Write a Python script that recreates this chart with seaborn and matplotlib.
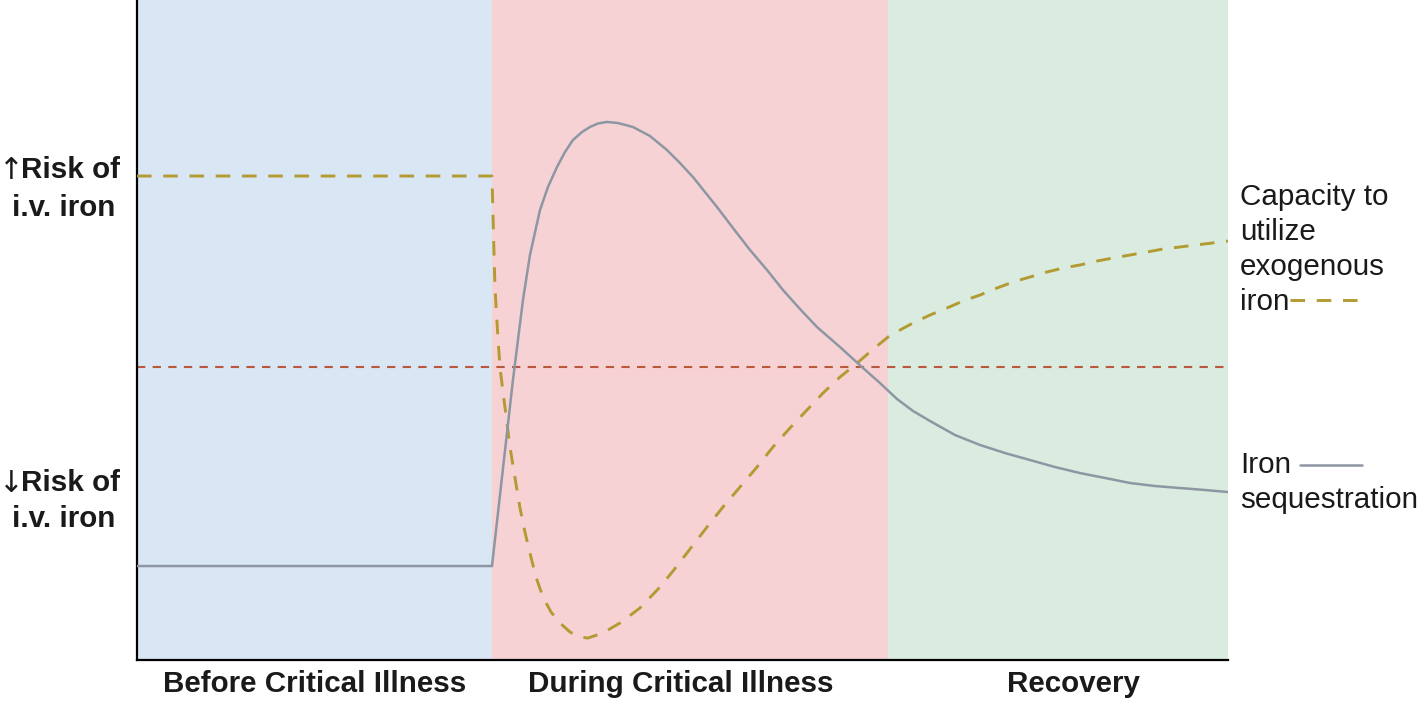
import numpy as np
import pandas as pd
import matplotlib.pyplot as plt
import seaborn as sns

sns.set_style("white")
plt.rcParams['font.family'] = ['Liberation Sans', 'DejaVu Sans']

# Phases along the time axis (0-100)
phase_names = ['Before Critical Illness', 'During Critical Illness', 'Recovery']
phase_edges = [0, 32.5, 68.8, 100]
phase_colors = ['#d9e6f4', '#f7d2d5', '#d9ecdf']

# Iron sequestration (solid grey)
seq_x = [0, 32.54, 34.46, 34.92, 35.38, 36.02, 36.94, 37.67, 38.50, 39.23, 39.96,
         40.79, 41.52, 42.25, 43.08, 44.09, 45.46, 47.02, 48.58, 49.77, 50.96, 52.06,
         53.16, 54.63, 56.19, 57.75, 59.21, 60.77, 62.33, 64.44, 66.45, 68.10, 69.66,
         71.13, 72.69, 74.98, 77.27, 79.56, 81.85, 84.14, 86.43, 88.73, 91.02, 93.31,
         95.60, 97.89, 100]
seq_y = [14.24, 14.24, 42.42, 48.48, 54.55, 61.36, 68.18, 71.67, 74.70, 76.97, 78.79,
         80.00, 80.76, 81.29, 81.52, 81.36, 80.76, 79.39, 77.27, 75.30, 73.18, 70.91,
         68.64, 65.45, 62.12, 59.09, 56.06, 53.18, 50.45, 47.42, 44.39, 41.97, 39.55,
         37.73, 36.21, 34.09, 32.58, 31.36, 30.30, 29.24, 28.33, 27.58, 26.82, 26.36,
         26.06, 25.76, 25.45]

# Capacity to utilize exogenous iron (dashed olive)
cap_x = [0, 32.54, 32.68, 32.81, 33.04, 33.27, 33.55, 33.82, 34.19, 34.65, 35.09,
         35.56, 36.02, 36.57, 37.21, 37.95, 38.77, 39.69, 40.60, 41.34, 42.16, 43.17,
         44.27, 46.10, 47.94, 49.13, 50.69, 52.25, 53.71, 55.27, 56.83, 58.29, 59.85,
         61.41, 62.88, 64.44, 65.81, 67.28, 68.84, 69.94, 71.13, 72.69, 74.24, 75.71,
         77.27, 78.83, 80.29, 81.85, 83.41, 84.88, 86.43, 87.99, 89.46, 91.02, 92.58,
         94.04, 95.60, 97.80, 100]
cap_y = [73.33, 73.33, 64.39, 56.52, 50.00, 44.39, 40.61, 37.12, 32.27, 27.58, 23.18,
         19.39, 16.21, 12.58, 9.55, 7.27, 5.61, 4.24, 3.48, 3.33, 3.79, 4.55,
         5.61, 7.88, 11.06, 13.48, 16.82, 20.15, 23.18, 26.21, 29.24, 32.27, 35.15,
         37.88, 40.45, 42.88, 44.70, 46.82, 48.94, 50.00, 51.06, 52.27, 53.33, 54.39,
         55.30, 56.36, 57.27, 58.03, 58.79, 59.39, 59.85, 60.45, 60.91, 61.36, 61.82,
         62.27, 62.58, 63.03, 63.48]

# Reference level (dashed red)
ref_level = 44.4

seq = pd.DataFrame({'t': seq_x, 'level': seq_y})
cap = pd.DataFrame({'t': cap_x, 'level': cap_y})

fig = plt.figure(figsize=(14.18, 7.02), dpi=100)
ax = fig.add_axes([0.0966, 0.0598, 0.7694, 0.9402])

for i in range(3):
    ax.axvspan(phase_edges[i], phase_edges[i + 1], color=phase_colors[i], lw=0, zorder=0)

ax.axhline(ref_level, color='#b8593d', lw=1.5, ls=(0, (4, 3.5)), zorder=2)
sns.lineplot(data=cap, x='t', y='level', ax=ax, color='#b39a32', lw=2.1,
             estimator=None, sort=False, zorder=3)
ax.lines[-1].set_linestyle((0, (5, 4)))
sns.lineplot(data=seq, x='t', y='level', ax=ax, color='#8d97a3', lw=1.8,
             estimator=None, sort=False, zorder=4)

ax.set_xlim(0, 100)
ax.set_ylim(0, 100)
ax.set_xticks([])
ax.set_yticks([])
ax.set_xlabel('')
ax.set_ylabel('')
for s in ['top', 'right']:
    ax.spines[s].set_visible(False)
for s in ['left', 'bottom']:
    ax.spines[s].set_color('black')
    ax.spines[s].set_linewidth(1.6)

txt = '#1a1a1a'
fs = 21.3

# phase labels under the axis
for name, xc in zip(phase_names, [0.163, 0.498, 0.858]):
    ax.text(xc, -0.036, name, transform=ax.transAxes, ha='center', va='center',
            fontsize=fs, fontweight='bold', color=txt)

# risk labels on the left (arrow, first line, second line)
for arrow, y1, y2 in [('\u2191', 0.742, 0.685), ('\u2193', 0.268, 0.2136)]:
    ax.text(-0.1155, y1, arrow, transform=ax.transAxes, ha='center', va='center',
            fontsize=fs, family='DejaVu Sans', color=txt)
    ax.text(-0.1063, y1, 'Risk of', transform=ax.transAxes, ha='left', va='center',
            fontsize=fs, fontweight='bold', color=txt)
    ax.text(-0.0669, y2, 'i.v. iron', transform=ax.transAxes, ha='center', va='center',
            fontsize=fs, fontweight='bold', color=txt)

# series labels on the right
ax.text(1.011, 0.622, 'Capacity to\nutilize\nexogenous\niron', transform=ax.transAxes,
        ha='left', va='center', fontsize=fs, linespacing=1.33, color=txt)
ax.text(1.011, 0.269, 'Iron\nsequestration', transform=ax.transAxes,
        ha='left', va='center', fontsize=fs, linespacing=1.33, color=txt)
ax.plot([1.057, 1.123], [0.545, 0.545], transform=ax.transAxes, clip_on=False,
        color='#b39a32', lw=2.1, ls=(0, (5, 4)))
ax.plot([1.066, 1.123], [0.295, 0.295], transform=ax.transAxes, clip_on=False,
        color='#8d97a3', lw=1.8)

fig.savefig('out.png', dpi=100)
